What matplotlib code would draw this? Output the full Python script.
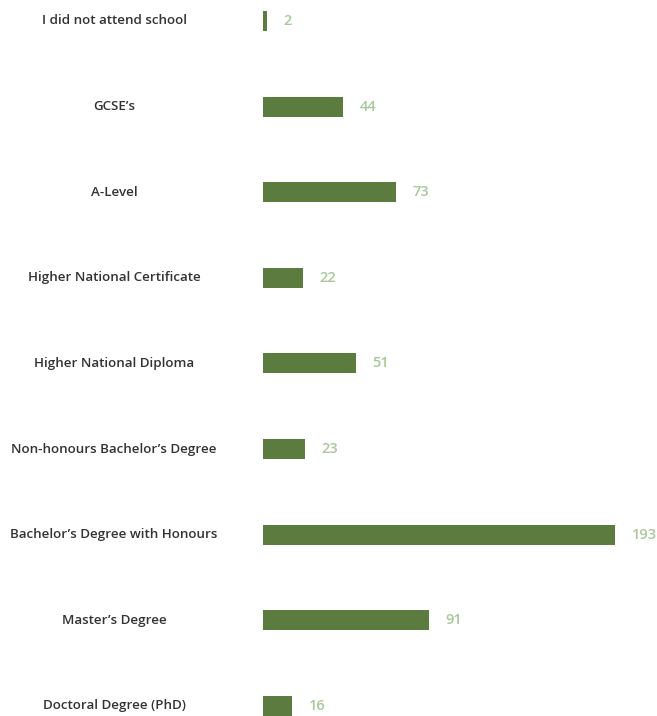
import matplotlib.pyplot as plt
import matplotlib.transforms as mtransforms
import numpy as np

categories = ["I did not attend school", "GCSE\u2019s", "A-Level",
              "Higher National Certificate", "Higher National Diploma",
              "Non-honours Bachelor\u2019s Degree", "Bachelor\u2019s Degree with Honours",
              "Master\u2019s Degree", "Doctoral Degree (PhD)"]
values = [2, 44, 73, 22, 51, 23, 193, 91, 16]

W, H = 657, 716
fig = plt.figure(figsize=(W / 100, H / 100), dpi=100)
ax = fig.add_axes([263 / W, 0, (615 - 263) / W, 1])

step = 85.6
y = np.arange(len(values))
ax.barh(y, values, height=20 / step, color='#5c7b3e')
ax.set_xlim(0, max(values))
ax.set_ylim((H - 21) / step, -21 / step)
ax.axis('off')

font = ['Open Sans', 'DejaVu Sans']
lab_x = (114 - 263) / (615 - 263)
trans = mtransforms.blended_transform_factory(ax.transAxes, ax.transData)
for yi, cat in zip(y, categories):
    ax.text(lab_x, yi, cat, transform=trans, ha='center', va='center',
            fontsize=9.6, color='#333333', family=font, fontweight='semibold')

for yi, v in zip(y, values):
    ax.annotate(str(v), (v, yi), xytext=(12, 0), textcoords='offset points',
                ha='left', va='center', fontsize=10.5, color='#a9c79b',
                family=font, fontweight='semibold', annotation_clip=False)

fig.savefig('out.png', dpi=100)
